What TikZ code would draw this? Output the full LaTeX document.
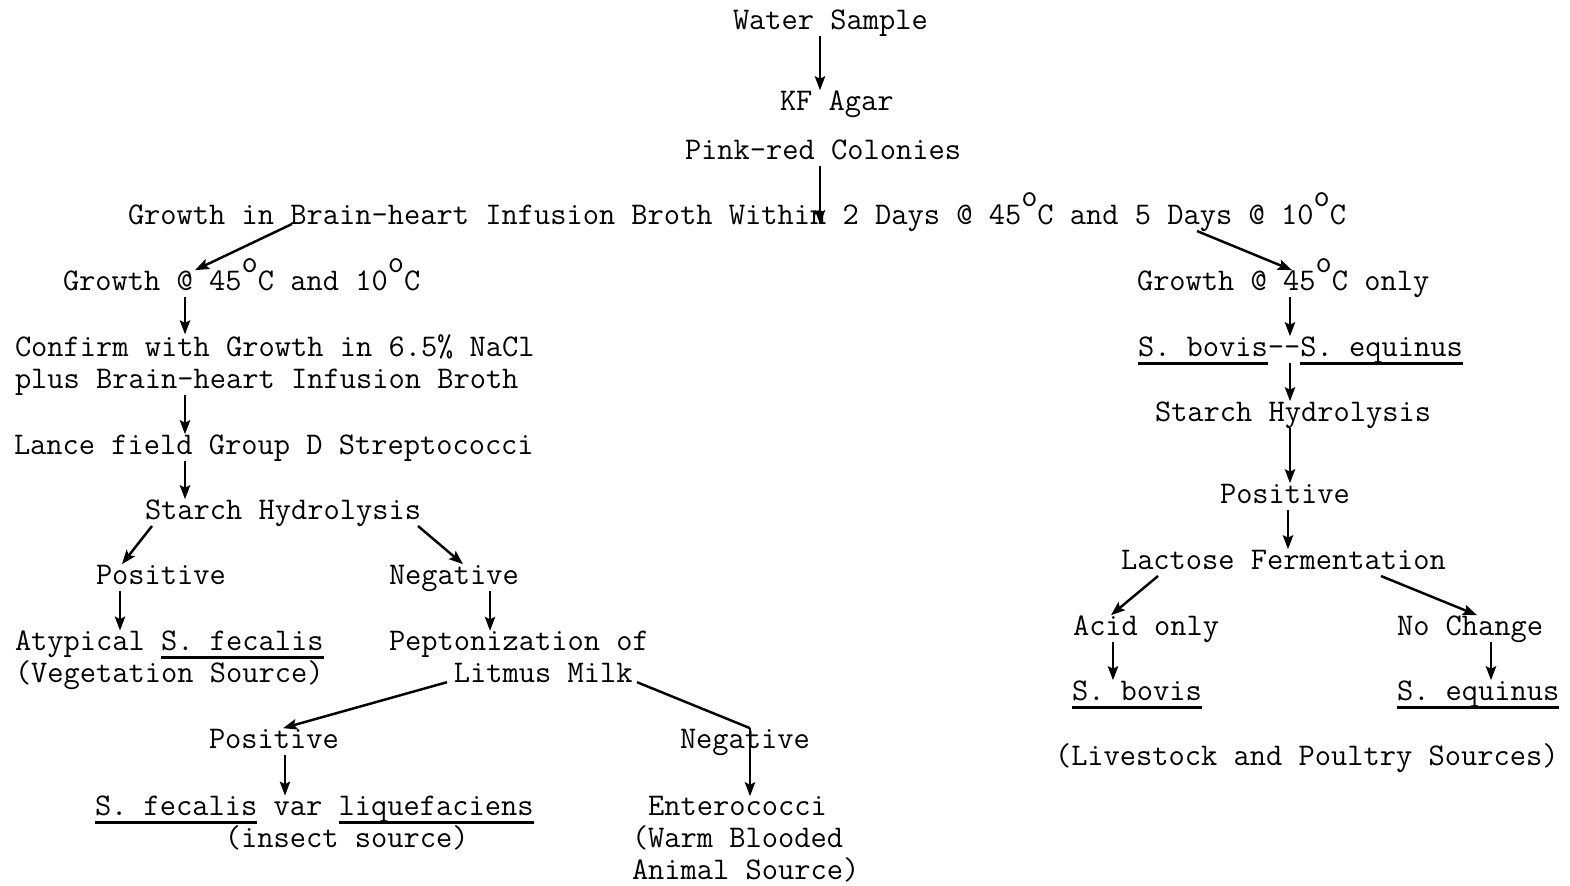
\documentclass[tikz,border=0pt]{standalone}
\usepackage{fontspec}
\usepackage{tikz}
\usetikzlibrary{arrows.meta}

\newcommand{\tw}{\fontsize{17.95}{18.1}\selectfont\ttfamily}
\newcommand{\degO}{\makebox[0.514em][l]{\raisebox{0.57em}{o}}}
\newcommand{\uln}[1]{\setbox0\hbox{#1}\rlap{\rule[-5pt]{\wd0}{1.6pt}}\box0\relax}

\begin{document}
\begin{tikzpicture}[x=0.02cm, y=-0.02cm,
  txt/.style={inner sep=0pt, outer sep=0pt, anchor=base west, font=\tw},
  oneline/.style={txt, text height=11.3pt, text depth=4pt},
  block/.style={txt, align=left},
  arr/.style={-{Stealth[length=8pt,width=6pt,inset=1.5pt]}, line width=0.9pt},
  darr/.style={arr, line width=1.4pt}]
        \useasboundingbox (0,0) rectangle (1570,886);

        % Top of the chart
        \node[oneline] (water) at (733,29) {Water Sample};
        \node[oneline] (kf) at (780,110) {KF Agar};
        \node[oneline] (pink) at (685,159) {Pink-red Colonies};
        \node[oneline] (grow) at (128,224) {Growth in Brain-heart Infusion Broth Within 2 Days @ 45\degO C and 5 Days @ 10\degO C};

        % Left branch (block nodes sit on their last line)
        \node[oneline] (both) at (63,290) {Growth @ 45\degO C and 10\degO C};
        \node[block] (nacl) at (15,388) {Confirm with Growth in 6.5\% NaCl\\plus Brain-heart Infusion Broth};
        \node[oneline] (lance) at (14,454) {Lance field Group D Streptococci};
        \node[oneline] (starchL) at (145,519) {Starch Hydrolysis};
        \node[oneline] (posL) at (96,584) {Positive};
        \node[oneline] (negL) at (389,584) {Negative};
        \node[block] (atyp) at (15,682) {Atypical \uln{S. fecalis}\\(Vegetation Source)};
        \node[block] (litmus) at (389,682) {Peptonization of\\\hphantom{Pept}Litmus Milk};
        \node[oneline] (posM) at (209,748) {Positive};
        \node[oneline] (negM) at (680,748) {Negative};
        \node[block] (liq) at (95,847) {\uln{S. fecalis} var \uln{liquefaciens}\\\hphantom{S. fecal}(insect source)};
        \node[block] (entero) at (632,879) {\hphantom{(}Enterococci\\(Warm Blooded\\Animal Source)};

        % Right branch
        \node[oneline] (only45) at (1137,290) {Growth @ 45\degO C only};
        \node[oneline] (boveq) at (1138,356) {\uln{S. bovis}-{}-\uln{S. equinus}};
        \node[oneline] (starchR) at (1155,421) {Starch Hydrolysis};
        \node[oneline] (posR) at (1220,503) {Positive};
        \node[oneline] (lact) at (1121,569) {Lactose Fermentation};
        \node[oneline] (acid) at (1073,635) {Acid only};
        \node[oneline] (nochange) at (1397,635) {No Change};
        \node[oneline] (bovis) at (1072,700) {\uln{S. bovis}};
        \node[oneline] (equinus) at (1397,700) {\uln{S. equinus}};
        \node[oneline] (sources) at (1055,765) {(Livestock and Poultry Sources)};

        % Straight arrows
        \foreach \a/\b/\x in {water/kf/820, both/nacl/185, nacl/lance/185, lance/starchL/185,
            posL/atyp/120, negL/litmus/490, posM/liq/285, only45/boveq/1290, boveq/starchR/1290,
            starchR/posR/1290, posR/lact/1288, acid/bovis/1113, nochange/equinus/1491} {
            \draw[arr] (\a.south -| \x,0) -- (\b.north -| \x,0);
        }
        \draw[arr] (pink.south -| 820,0) -- (grow.base -| 820,0);

        % Slanted arrows
        \draw[darr] (grow.base -| 292,0) -- (both.north -| 195,0);
        \draw[darr] (grow.south -| 1197,0) -- (only45.north -| 1292,0);
        \draw[darr] (starchL.south -| 152,0) -- (posL.north -| 122,0);
        \draw[darr] (starchL.south -| 418,0) -- (negL.north -| 463,0);
        \draw[darr] (litmus.south -| 447,0) -- (posM.north -| 283,0);
        \draw[darr, -] (litmus.south -| 637,0) -- (negM.north -| 750,0);
        \draw[arr] (negM.north -| 750,0) -- (entero.north -| 750,0);
        \draw[darr] (lact.south -| 1158,0) -- (acid.north -| 1111,0);
        \draw[darr] (lact.south -| 1381,0) -- (nochange.north -| 1477,0);
\end{tikzpicture}
\end{document}
